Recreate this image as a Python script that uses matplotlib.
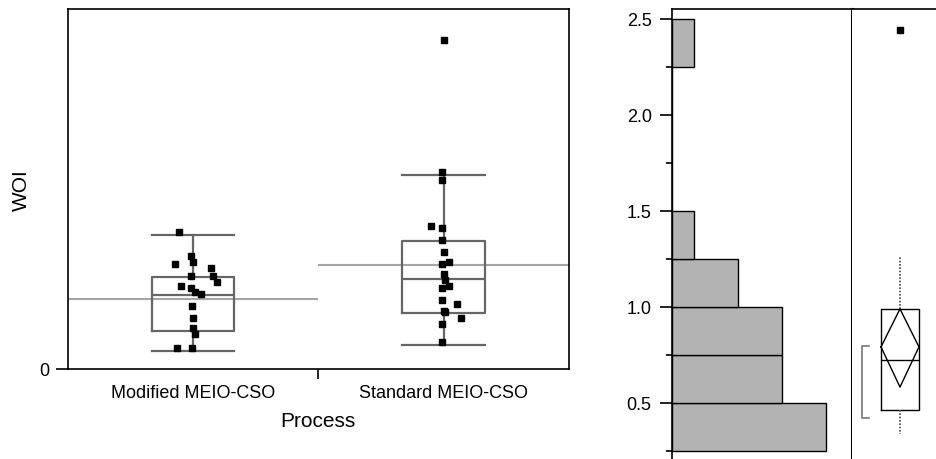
import numpy as np
import matplotlib.pyplot as plt
from matplotlib.ticker import FixedLocator, MultipleLocator

plt.rcParams['font.family'] = ['Liberation Sans', 'DejaVu Sans']

# data
# -----------------------------------------------------
groups = ['Modified MEIO-CSO', 'Standard MEIO-CSO']

mod_woi = [1.015, 0.837, 0.792, 0.777, 0.748, 0.688, 0.644, 0.688, 0.614,
           0.599, 0.569, 0.555, 0.465, 0.376, 0.302, 0.258, 0.154, 0.154]
mod_jit = [-0.057, -0.009, -0.001, -0.073, 0.071, 0.079, 0.095, -0.009, -0.049,
           -0.009, 0.007, 0.031, -0.004, -0.001, -0.001, 0.007, -0.065, -0.004]

std_woi = [2.443, 1.460, 1.401, 1.059, 1.045, 0.956, 0.866, 0.777, 0.792, 0.703,
           0.663, 0.614, 0.599, 0.510, 0.480, 0.431, 0.421, 0.376, 0.332, 0.198]
std_jit = [0.0, -0.007, -0.007, -0.049, -0.007, -0.007, 0.0, -0.007, 0.021, 0.0,
           0.007, 0.023, -0.007, -0.007, 0.055, 0.0, 0.007, 0.071, -0.007, -0.007]

# whislo, q1, med, q3, whishi, mean
mod_stats = [0.134, 0.282, 0.549, 0.683, 0.995, 0.520]
std_stats = [0.178, 0.416, 0.668, 0.950, 1.440, 0.772]

# histogram of WOI
bin_edges = [0.25, 0.5, 0.75, 1.0, 1.25, 1.5, 1.75, 2.0, 2.25, 2.5]
counts = [14, 10, 10, 6, 2, 0, 0, 0, 2]

# outlier box plot of WOI
all_stats = dict(whislo=0.339, q1=0.464, med=0.724, q3=0.990, whishi=1.260,
                 mean=0.792, ci_lo=0.583, ci_hi=0.990)
all_outliers = [2.443]
shortest_half = (0.422, 0.798)


fig = plt.figure(figsize=(9.36, 4.6), dpi=100)

# left panel: WOI by process
# -----------------------------------------------------
ax = fig.add_axes([0.0723, 0.1957, 0.5356, 0.7826])
box_col = '#666666'
stats = []
for s in (mod_stats, std_stats):
    stats.append(dict(whislo=s[0], q1=s[1], med=s[2], q3=s[3], whishi=s[4],
                      fliers=[]))
ax.bxp(stats, positions=[0, 1], widths=0.33, capwidths=0.33,
       showfliers=False,
       boxprops=dict(color=box_col, lw=1.6),
       whiskerprops=dict(color=box_col, lw=1.6),
       capprops=dict(color=box_col, lw=1.6),
       medianprops=dict(color=box_col, lw=1.6))

ax.hlines(mod_stats[5], -0.5, 0.5, color='#a6a6a6', lw=1.5, zorder=1)
ax.hlines(std_stats[5], 0.5, 1.5, color='#a6a6a6', lw=1.5, zorder=1)

ax.plot(0 + np.array(mod_jit), mod_woi, 's', color='black', ms=5, zorder=5)
ax.plot(1 + np.array(std_jit), std_woi, 's', color='black', ms=5, zorder=5)

ax.set_xlim(-0.5, 1.5)
ax.set_ylim(0, 2.673)
ax.xaxis.set_major_locator(FixedLocator([0.5]))
ax.xaxis.set_minor_locator(FixedLocator([0, 1]))
ax.set_xticklabels([''])
ax.set_xticks([0, 1], groups, minor=True)
ax.tick_params(axis='x', which='major', length=7, width=1.2, direction='out')
ax.tick_params(axis='x', which='minor', length=0, pad=11, labelsize=13)
ax.set_yticks([0])
ax.tick_params(axis='y', length=8.6, width=1.2, pad=4.5, labelsize=13)
for sp in ax.spines.values():
    sp.set_linewidth(1.2)
ax.set_xlabel('Process', fontsize=15, labelpad=7)
ax.set_ylabel('WOI', fontsize=15, labelpad=6)

# right panel: histogram
# -----------------------------------------------------
ylo, yhi = 0.2083, 2.552
axh = fig.add_axes([0.7179, 0.0, 0.1923, 0.9783])
axh.barh(bin_edges[:-1], counts, height=0.25, align='edge',
         color='#b3b3b3', edgecolor='black', lw=1.0)
axh.set_xlim(0, 16.36)
axh.set_ylim(ylo, yhi)
axh.spines['bottom'].set_visible(False)
axh.spines['right'].set_linewidth(2.2)
axh.spines['top'].set_linewidth(1.2)
axh.spines['left'].set_linewidth(1.2)
axh.set_xticks([])
axh.yaxis.set_major_locator(MultipleLocator(0.5))
axh.yaxis.set_minor_locator(FixedLocator([0.25, 0.75, 1.25, 1.75, 2.25]))
axh.yaxis.set_major_formatter(plt.FormatStrFormatter('%.1f'))
axh.tick_params(axis='y', which='major', length=8.6, width=1.2, pad=6,
                labelsize=13)
axh.tick_params(axis='y', which='minor', length=4.5, width=1.2)

# right panel: outlier box plot
# -----------------------------------------------------
axb = fig.add_axes([0.9103, 0.0, 0.0897, 0.9783])
axb.set_xlim(0, 1)
axb.set_ylim(ylo, yhi)
cx, hw = 0.571, 0.226
axb.bxp([dict(whislo=all_stats['whislo'], q1=all_stats['q1'],
              med=all_stats['med'], q3=all_stats['q3'],
              whishi=all_stats['whishi'], fliers=[])],
        positions=[cx], widths=2 * hw, showcaps=False, showfliers=False,
        boxprops=dict(color='black', lw=1.0),
        whiskerprops=dict(color='#444444', lw=1.2, ls=(0, (1, 1))),
        medianprops=dict(color='black', lw=1.0), manage_ticks=False)
# mean diamond
axb.plot([cx - hw, cx, cx + hw, cx, cx - hw],
         [all_stats['mean'], all_stats['ci_hi'], all_stats['mean'],
          all_stats['ci_lo'], all_stats['mean']], color='black', lw=1.0)
axb.plot([cx] * len(all_outliers), all_outliers, 's', color='black', ms=5)
# shortest half bracket
axb.plot([0.202, 0.119, 0.119, 0.202],
         [shortest_half[1], shortest_half[1], shortest_half[0], shortest_half[0]],
         color='#777777', lw=1.2)
for side in ('left', 'right', 'bottom'):
    axb.spines[side].set_visible(False)
axb.spines['top'].set_linewidth(1.2)
axb.set_xticks([])
axb.set_yticks([])

fig.savefig('out.png', dpi=100)
